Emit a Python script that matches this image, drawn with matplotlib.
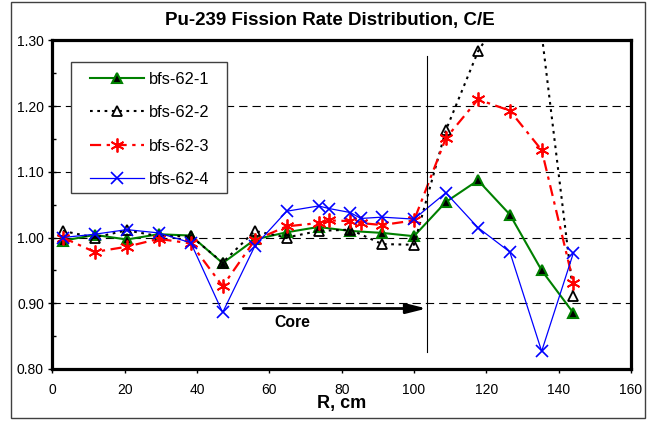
import numpy as np
import matplotlib
matplotlib.use('Agg')
import matplotlib.pyplot as plt
from matplotlib.patches import Rectangle
from matplotlib.ticker import MultipleLocator

plt.rcParams['font.family'] = ['Liberation Sans', 'DejaVu Sans']

# radial positions, cm
R = [2.9, 11.7, 20.6, 29.4, 38.3, 47.1, 56.0, 64.8, 73.6, 76.6, 82.4, 85.3,
     91.2, 100.0, 108.8, 117.7, 126.5, 135.3, 144.1]

# C/E values, nan = no measurement at that point
nan = np.nan
bfs1 = [0.995, 1.004, 0.997, 1.005, 1.003, 0.961, 0.997, 1.008, 1.016, nan, 1.010, nan,
        1.007, 1.002, 1.054, 1.087, 1.035, 0.950, 0.885]
bfs2 = [1.010, 1.000, 1.011, 1.002, 1.002, 0.962, 1.010, 1.000, 1.010, nan, 1.012, nan,
        0.990, 0.989, 1.163, 1.283, 1.36, 1.31, 0.911]
bfs3 = [1.000, 0.978, 0.986, 0.998, 0.991, 0.926, 0.996, 1.017, 1.022, 1.026, 1.025, 1.022,
        1.019, 1.026, 1.151, 1.210, 1.193, 1.133, 0.931]
bfs4 = [1.000, 1.005, 1.012, 1.007, 0.992, 0.886, 0.987, 1.040, 1.048, 1.044, 1.038, 1.029,
        1.031, 1.028, 1.068, 1.015, 0.978, 0.827, 0.977]

core_edge = 103.5
arrow_start = 52.8


def valid(x, y):
    x = np.array(x); y = np.array(y, dtype=float)
    m = ~np.isnan(y)
    return x[m], y[m]


fig = plt.figure(figsize=(6.52, 4.24), dpi=100)
ax = fig.add_axes([52.3/652, 1-369/424, (631-52.3)/652, (369-40.3)/424])

x, y = valid(R, bfs1)
ax.plot(x, y, color='#008000', lw=1.5, marker='^', ms=7, mfc='black', mec='#008000',
        mew=1.5, label='bfs-62-1')
x, y = valid(R, bfs2)
ax.plot(x, y, color='black', lw=1.5, ls=(0, (1.3, 2.2)), marker='^', ms=7, mfc='none',
        mec='black', mew=1.3, label='bfs-62-2')
x, y = valid(R, bfs3)
ax.plot(x, y, color='red', lw=1.6, ls=(0, (5, 2.5, 1.5, 2.5)), marker=(6, 2, 0), ms=10,
        mec='red', mew=1.3, label='bfs-62-3')
x, y = valid(R, bfs4)
ax.plot(x, y, color='blue', lw=0.9, marker='x', ms=8, mec='blue', mew=1.2, label='bfs-62-4')

ax.plot([core_edge, core_edge], [0.826, 1.276], color='black', lw=0.8)
ax.annotate('', xy=(core_edge, 0.892), xytext=(arrow_start, 0.892),
            arrowprops=dict(arrowstyle='-|>,head_length=1.2,head_width=0.3',
                            lw=2, color='black', shrinkA=0, shrinkB=0))
ax.text(66.3, 0.864, 'Core', ha='center', va='baseline', fontsize=11.3, fontweight='bold')

ax.set_xlim(0, 160)
ax.set_ylim(0.80, 1.30)
ax.xaxis.set_major_locator(MultipleLocator(20))
ax.yaxis.set_major_locator(MultipleLocator(0.1))
ax.yaxis.set_minor_locator(MultipleLocator(0.05))
ax.yaxis.set_major_formatter(matplotlib.ticker.FormatStrFormatter('%.2f'))
ax.yaxis.grid(True, which='major', color='black', lw=0.8, ls=(0, (7.5, 4.5)))
ax.set_axisbelow(True)

for s in ax.spines.values():
    s.set_linewidth(2.3)
ax.tick_params(axis='x', direction='out', length=3, width=1, pad=7, labelsize=10)
ax.tick_params(axis='y', which='major', direction='inout', length=6, width=1, pad=3,
               labelsize=10)
ax.tick_params(axis='y', which='minor', direction='in', length=3, width=1)

# legend box drawn separately to get Excel-like padding
ax.add_patch(Rectangle((71/652, 1-193/424), 156/652, 131/424, transform=fig.transFigure,
                       facecolor='white', edgecolor='#404040', lw=1, zorder=5,
                       clip_on=False))
leg = ax.legend(loc='upper left', bbox_to_anchor=(90/652, 1-71.5/424),
                bbox_transform=fig.transFigure, frameon=False, fontsize=11.8,
                handlelength=3.3, handletextpad=0.28, borderpad=0, borderaxespad=0,
                labelspacing=1.13)
leg.set_zorder(10)

fig.text(330/652, 1-25/424, 'Pu-239 Fission Rate Distribution, C/E', ha='center',
         va='baseline', fontsize=13.5, fontweight='bold')
fig.text(342/652, 1-408.3/424, 'R, cm', ha='center', va='baseline', fontsize=13,
         fontweight='bold')

fig.patches.append(Rectangle((11/652, 1-418/424), 634/652, 416/424, transform=fig.transFigure,
                             fill=False, edgecolor='#404040', lw=1))

fig.savefig('out.png', dpi=100)
